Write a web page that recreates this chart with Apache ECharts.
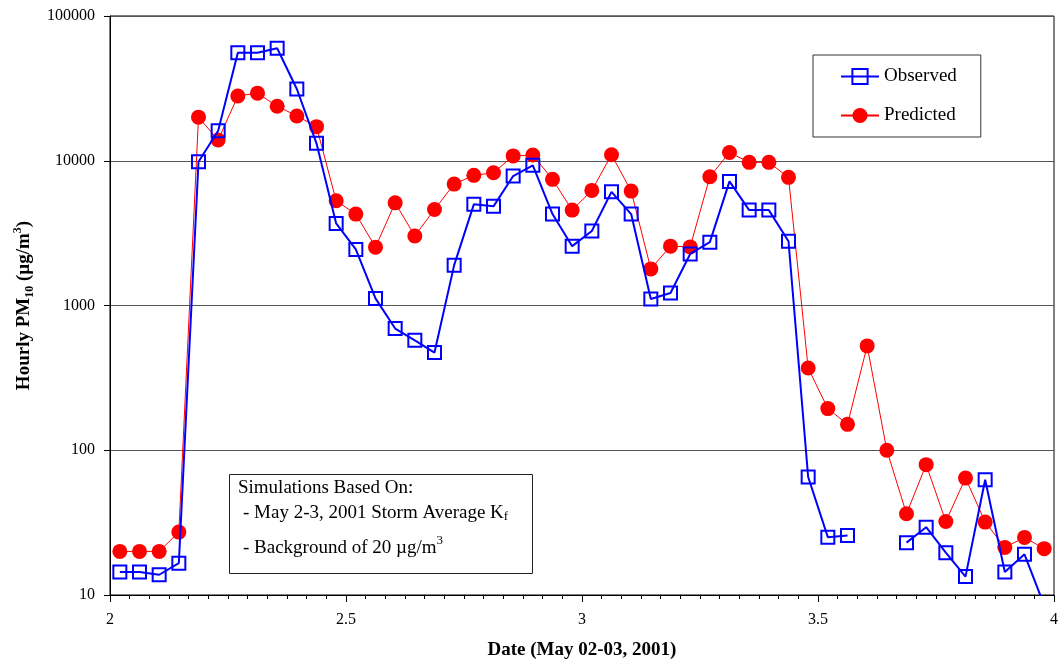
<!DOCTYPE html>
<html>
<head>
<meta charset="utf-8">
<title>Hourly PM10, May 02-03, 2001</title>
<script src="https://cdn.jsdelivr.net/npm/echarts@6/dist/echarts.min.js"></script>
<style>
  html, body { margin: 0; padding: 0; background: #fff; }
  #chart { width: 1061px; height: 666px; }
</style>
</head>
<body>
<div id="chart"></div>
<script>
// Hour index of each hourly reading (reading h is centred at h + 0.5 hours after 2 May 00:00)
const hourIndex = [
  0, 1, 2, 3, 4, 5, 6, 7, 8, 9, 10, 11, 12, 13, 14, 15,
  16, 17, 18, 19, 20, 21, 22, 23, 24, 25, 26, 27, 28, 29, 30, 31,
  32, 33, 34, 35, 36, 37, 38, 39, 40, 41, 42, 43, 44, 45, 46, 47
];

// Observed hourly PM10 (µg/m3); null = no measurement
const observed = [
  14.4, 14.4, 13.8, 16.6, 9840, 16100, 55800, 55800, 59900, 31300, 13200, 3690, 2440, 1120, 693, 575,
  473, 1900, 5000, 4840, 7840, 9300, 4280, 2570, 3270, 6100, 4280, 1110, 1220, 2270, 2740, 7200,
  4560, 4560, 2780, 65.3, 25.1, 25.8, null, null, 23.0, 29.4, 19.6, 13.4, 62.6, 14.4, 19.1, 8.5
];

// Predicted hourly PM10 (µg/m3)
const predicted = [
  20, 20, 20, 27.2, 20000, 13900, 28000, 29300, 23800, 20400, 17200, 5290, 4280, 2530, 5120, 3020,
  4610, 6900, 7930, 8260, 10800, 10950, 7440, 4560, 6240, 11000, 6170, 1790, 2570, 2540, 7750, 11400,
  9750, 9750, 7680, 370, 194, 151, 526, 100, 36.4, 79.5, 32.2, 64.2, 31.9, 21.3, 25.0, 20.9
];

const xTickLabels = ['2', '2.5', '3', '3.5', '4'];
const yTickLabels = ['10', '100', '1000', '10000', '100000'];

const dayOf = h => 2 + (h + 0.5) / 24;
const obsData = hourIndex.map((h, i) => [dayOf(h), observed[i] === null ? '-' : observed[i]]);
const predData = hourIndex.map((h, i) => [dayOf(h), predicted[i]]);

const SERIF = '"Liberation Serif", "Times New Roman", serif';

const chart = echarts.init(document.getElementById('chart'), null, { renderer: 'canvas' });

chart.setOption({
  animation: false,
  backgroundColor: '#ffffff',
  textStyle: { fontFamily: SERIF, color: '#000' },
  grid: {
    left: 110, right: 6, top: 16, bottom: 71,
    show: true, borderColor: '#000', borderWidth: 1, backgroundColor: 'transparent'
  },
  legend: {
    orient: 'vertical',
    left: 813, top: 55,
    padding: [12, 24, 12, 27],
    itemGap: 20,
    itemWidth: 38, itemHeight: 19,
    borderColor: '#333', borderWidth: 1,
    backgroundColor: '#fff',
    textStyle: { fontFamily: SERIF, fontSize: 19, color: '#000' },
    data: ['Observed', 'Predicted']
  },
  xAxis: {
    type: 'value',
    min: 2, max: 4, interval: 0.5,
    name: 'Date (May 02-03, 2001)',
    nameLocation: 'middle',
    nameGap: 46,
    nameTextStyle: { fontFamily: SERIF, fontSize: 19, fontWeight: 'bold', color: '#000' },
    axisLine: { lineStyle: { color: '#000', width: 1 } },
    axisTick: { show: true, length: 7, lineStyle: { color: '#000' } },
    minorTick: { show: true, splitNumber: 12, length: 4, lineStyle: { color: '#000' } },
    splitLine: { show: false },
    axisLabel: {
      fontFamily: SERIF, fontSize: 16, color: '#000', margin: 17,
      formatter: v => {
        const idx = Math.round((v - 2) / 0.5);
        return xTickLabels[idx] !== undefined ? xTickLabels[idx] : '';
      }
    }
  },
  yAxis: {
    type: 'log',
    logBase: 10,
    min: 10, max: 100000,
    name: 'Hourly PM{sub|10} (µg/m{sup|3})',
    nameLocation: 'middle',
    nameGap: 74,
    nameRotate: 90,
    nameTextStyle: {
      fontFamily: SERIF, fontSize: 19, fontWeight: 'bold', color: '#000', lineHeight: 24,
      rich: {
        sub: { fontFamily: SERIF, fontSize: 12, fontWeight: 'bold', verticalAlign: 'bottom', lineHeight: 18 },
        sup: { fontFamily: SERIF, fontSize: 12, fontWeight: 'bold', verticalAlign: 'top', lineHeight: 14 }
      }
    },
    axisLine: { show: true, lineStyle: { color: '#000', width: 1 } },
    axisTick: { show: true, length: 6, lineStyle: { color: '#000' } },
    splitLine: { show: true, lineStyle: { color: '#555', width: 1 } },
    axisLabel: {
      fontFamily: SERIF, fontSize: 16, color: '#000', margin: 15,
      formatter: v => {
        const idx = Math.round(Math.log10(v)) - 1;
        return yTickLabels[idx] !== undefined ? yTickLabels[idx] : '';
      }
    }
  },
  series: [
    {
      name: 'Observed',
      type: 'line',
      data: obsData,
      connectNulls: false,
      symbol: 'rect',
      symbolSize: 13,
      z: 3,
      lineStyle: { color: '#0000ff', width: 2 },
      itemStyle: { color: 'rgba(255,255,255,0)', borderColor: '#0000ff', borderWidth: 2 },
      emphasis: { disabled: true }
    },
    {
      name: 'Predicted',
      type: 'line',
      data: predData,
      symbol: 'circle',
      symbolSize: 15,
      z: 2,
      lineStyle: { color: '#ff0000', width: 1 },
      itemStyle: { color: '#ff0000', borderWidth: 0 },
      emphasis: { disabled: true }
    }
  ],
  graphic: [
    {
      type: 'group',
      left: 229, top: 474,
      z: 10,
      children: [
        {
          type: 'rect',
          shape: { x: 0.5, y: 0.5, width: 303, height: 99 },
          style: { fill: '#fff', stroke: '#222', lineWidth: 1 }
        },
        {
          type: 'text', x: 9, y: 14,
          style: {
            text: 'Simulations Based On:',
            font: '19px ' + SERIF, fill: '#000', verticalAlign: 'middle'
          }
        },
        {
          type: 'text', x: 14, y: 39,
          style: {
            text: '- May 2-3, 2001 Storm Average K{sub|f}',
            font: '19px ' + SERIF, fill: '#000', verticalAlign: 'middle',
            rich: {
              sub: { font: '13px ' + SERIF, verticalAlign: 'bottom', lineHeight: 20 }
            }
          }
        },
        {
          type: 'text', x: 14, y: 72,
          style: {
            text: '{main|- Background of 20 µg/m}{sup|3}',
            fill: '#000', verticalAlign: 'middle',
            rich: {
              main: { font: '19px ' + SERIF, lineHeight: 24, verticalAlign: 'bottom' },
              sup: { font: '13px ' + SERIF, verticalAlign: 'top', lineHeight: 14 }
            }
          }
        }
      ]
    }
  ]
});
</script>
</body>
</html>
